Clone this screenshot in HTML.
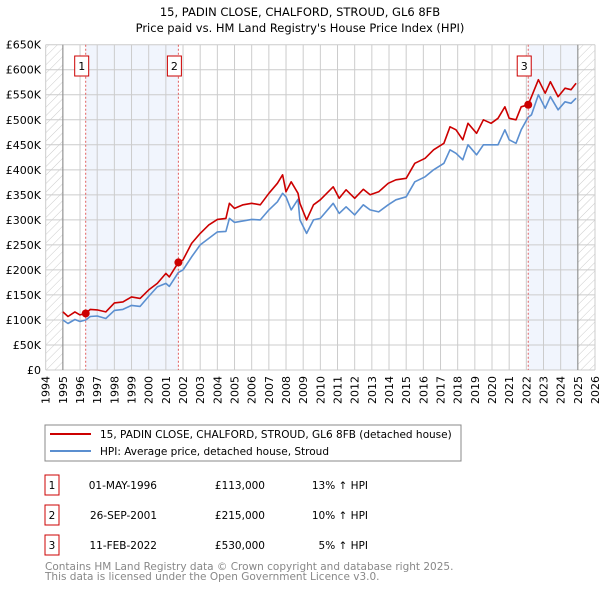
<!DOCTYPE html>
<html><head><meta charset="utf-8"><style>
body{margin:0;background:#fff;font-family:"DejaVu Sans","Liberation Sans",sans-serif;}
#wrap{position:relative;width:600px;height:590px;overflow:hidden}
svg text{font-family:"DejaVu Sans","Liberation Sans",sans-serif}
</style></head><body><div id="wrap">
<svg id="svg" width="600" height="590" xmlns="http://www.w3.org/2000/svg">
<defs><pattern id="hatch" width="6" height="6" patternUnits="userSpaceOnUse" patternTransform="rotate(45)"><line x1="0" y1="0" x2="0" y2="6" stroke="#ccc" stroke-width="1"/></pattern></defs>
<text x="300" y="16" text-anchor="middle" font-size="11.5" fill="#000">15, PADIN CLOSE, CHALFORD, STROUD, GL6 8FB</text>
<text x="300" y="32" text-anchor="middle" font-size="11.5" fill="#000">Price paid vs. HM Land Registry's House Price Index (HPI)</text>
<g id="plot"></g>
<rect x="45" y="425" width="416" height="36" fill="#fff" stroke="#888"/>
<line x1="50" y1="434" x2="91" y2="434" stroke="#cc0000" stroke-width="2"/>
<text x="100" y="438" font-size="10.5">15, PADIN CLOSE, CHALFORD, STROUD, GL6 8FB (detached house)</text>
<line x1="50" y1="451" x2="91" y2="451" stroke="#5b8fd0" stroke-width="2"/>
<text x="100" y="455" font-size="10.5">HPI: Average price, detached house, Stroud</text>
<g id="table" font-size="10.5"></g>
<text x="45" y="570" font-size="10.5" fill="#888">Contains HM Land Registry data © Crown copyright and database right 2025.</text>
<text x="45" y="580" font-size="10.5" fill="#888">This data is licensed under the Open Government Licence v3.0.</text>
</svg></div>
<script>
const hpiYears=[1995,1995.3,1995.7,1996,1996.33,1996.6,1997,1997.5,1998,1998.5,1999,1999.5,2000,2000.5,2001,2001.2,2001.73,2002,2002.5,2003,2003.5,2004,2004.5,2004.7,2005,2005.5,2006,2006.5,2007,2007.5,2007.8,2008,2008.3,2008.7,2008.81,2009.2,2009.6,2010,2010.75,2011.1,2011.5,2012,2012.5,2012.9,2013.4,2013.95,2014.4,2015,2015.5,2016.1,2016.6,2017.2,2017.55,2017.9,2018.3,2018.6,2019.1,2019.5,2019.95,2020.35,2020.75,2021,2021.4,2021.7,2022.1,2022.3,2022.7,2023.1,2023.4,2023.85,2024.25,2024.6,2024.9];
const hpiValues=[100,93,101,97,100,107,108,103,119,121,129,127,147,166,173,167,195,200,226,250,263,276,277,303,295,298,301,300,320,336,353,346,320,341,300,273,300,303,333,313,326,310,330,320,316,330,340,346,376,386,400,413,440,433,420,450,430,450,450,450,480,460,453,480,505,510,550,523,546,520,536,533,543];
const priceValues=[116,107,116,110,113,121,120,116,134,136,146,143,160,173,193,186,215,220,253,273,290,301,303,333,323,330,333,330,353,373,390,356,376,353,333,300,330,340,366,343,360,343,361,350,356,373,380,383,413,423,440,453,486,480,460,493,473,500,493,503,526,503,500,526,530,546,580,553,576,546,563,560,573];
const saleYears=[1996.33,2001.73,2022.11];
const salePrices=[113,215,530];
const saleLabels=["1","2","3"];
const saleDates=["01-MAY-1996","26-SEP-2001","11-FEB-2022"];
const salePriceText=["£113,000","£215,000","£530,000"];
const saleDiff=["13% ↑ HPI","10% ↑ HPI","5% ↑ HPI"];
const yTicks=[0,50,100,150,200,250,300,350,400,450,500,550,600,650];
const yTickLabels=["£0","£50K","£100K","£150K","£200K","£250K","£300K","£350K","£400K","£450K","£500K","£550K","£600K","£650K"];
const xTicks=[];for(let y=1994;y<=2026;y++)xTicks.push(y);

const X0=45.7,X1=595,Y0=370,Y1=44.7;
const xs=y=>X0+(y-1994)*(X1-X0)/32;
const ys=v=>Y0-v*(Y0-Y1)/650;
const NS="http://www.w3.org/2000/svg";
const plot=document.getElementById('plot');
function mk(tag,attrs,parent){const e=document.createElementNS(NS,tag);for(const k in attrs)e.setAttribute(k,attrs[k]);(parent||plot).appendChild(e);return e;}

let r=mk('rect',{x:xs(1994),y:Y1,width:xs(1995)-xs(1994),height:Y0-Y1,fill:'url(#hatch)'});


r=mk('rect',{x:xs(2025),y:Y1,width:X1-xs(2025),height:Y0-Y1,fill:'url(#hatch)'});


r=mk('rect',{x:xs(saleYears[0]),y:Y1,width:xs(saleYears[1])-xs(saleYears[0]),height:Y0-Y1,fill:'#eef3fc',opacity:0.8});


r=mk('rect',{x:xs(saleYears[2]),y:Y1,width:xs(2025)-xs(saleYears[2]),height:Y0-Y1,fill:'#eef3fc',opacity:0.8});



yTicks.forEach((v,i)=>{
 const l=mk('line',{x1:X0,x2:X1,y1:ys(v),y2:ys(v),stroke:'#ccc','stroke-width':1});
 
 
 const t=mk('text',{x:41,y:ys(v)+4,'text-anchor':'end','font-size':11});
 t.textContent=yTickLabels[i];
 
 
});
xTicks.forEach(y=>{
 const l=mk('line',{x1:xs(y),x2:xs(y),y1:Y1,y2:Y0,stroke:'#ccc','stroke-width':1});
 
 
 const t=mk('text',{x:0,y:0,'text-anchor':'end','font-size':11,transform:`translate(${xs(y)+4},${Y0+6}) rotate(-90)`});
 t.textContent=y;
 
 
});
[1995,2025].forEach(y=>{const l=mk('line',{x1:xs(y),x2:xs(y),y1:Y1,y2:Y0,stroke:'#888','stroke-width':1});
 
 });

function path(ys_,vals,color,name){
 const d=ys_.map((y,i)=>(i?'L':'M')+xs(y).toFixed(1)+','+ys(vals[i]).toFixed(1)).join('');
 const p=mk('path',{d,fill:'none',stroke:color,'stroke-width':1.6,'stroke-linejoin':'round'});
 
 
}
path(hpiYears,hpiValues,'#5b8fd0','hpi-line');
path(hpiYears,priceValues,'#cc0000','price-paid-line');

saleYears.forEach((y,i)=>{
 const l=mk('line',{x1:xs(y),x2:xs(y),y1:Y1,y2:Y0,stroke:'#e06060','stroke-width':1,'stroke-dasharray':'2,2'});
 
 
 const c=mk('circle',{cx:xs(y),cy:ys(salePrices[i]),r:4,fill:'#cc0000'});
 
 
 const b=mk('rect',{x:xs(y)-11,y:56,width:14,height:20,fill:'#fff',stroke:'#cc0000'});
 
 
 const t=mk('text',{x:xs(y)-4,y:70,'text-anchor':'middle','font-size':11});
 t.textContent=saleLabels[i];
 
 
});
const tbl=document.getElementById('table');
saleLabels.forEach((s,i)=>{
 const yy=475+i*30;
 const b=mk('rect',{x:45,y:yy,width:14,height:20,fill:'#fff',stroke:'#cc0000'},tbl);
 
 
 const cells=[[52,'middle',s],[157,'end',saleDates[i]],[265,'end',salePriceText[i]],[368,'end',saleDiff[i]]];
 cells.forEach((c,j)=>{const t=mk('text',{x:c[0],y:yy+14,'text-anchor':c[1]},tbl);t.textContent=c[2];
  
  });
});
</script></body></html>
